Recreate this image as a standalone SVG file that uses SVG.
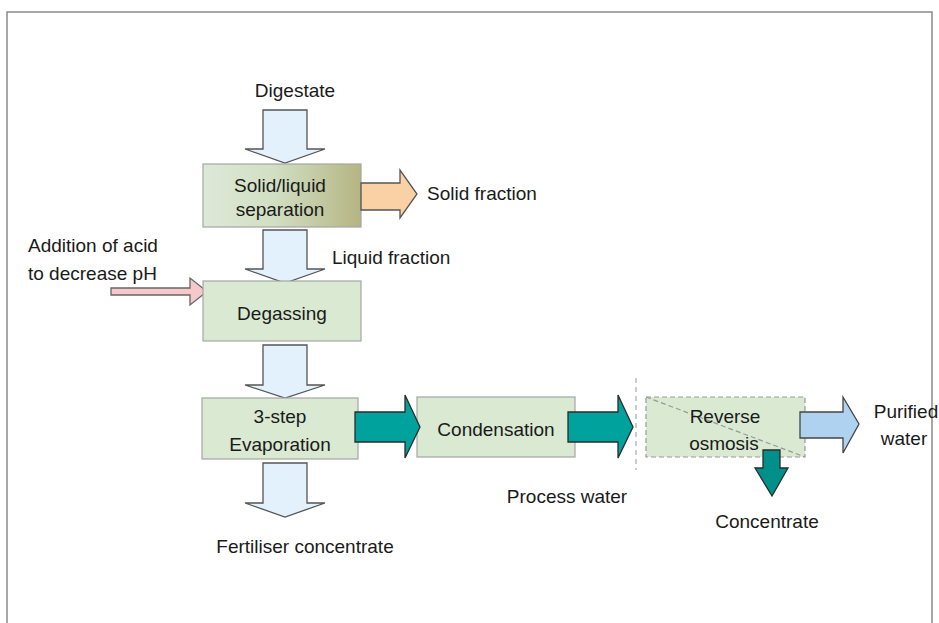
<svg xmlns="http://www.w3.org/2000/svg" width="939" height="623" viewBox="0 0 939 623">
<style>
text{font-family:"Liberation Sans",Arial,sans-serif;font-size:19px;fill:#1a1a1a}
.m{text-anchor:middle}
.box{fill:#d9e9d2;stroke:#a6a6a6;stroke-width:1.2}
.down{fill:#e2f1fb;stroke:#555;stroke-width:1.3}
.teal{fill:#00a29e;stroke:#2b2b2b;stroke-width:1.3}
</style>
<defs>
<linearGradient id="olive" x1="0" y1="0" x2="1" y2="0">
<stop offset="0" stop-color="#dde9d7"/>
<stop offset="0.45" stop-color="#d2dfc3"/>
<stop offset="1" stop-color="#b5b583"/>
</linearGradient>
</defs>
<rect x="0" y="0" width="939" height="623" fill="#fff"/>
<path d="M7,630 V12 H932 V630" fill="none" stroke="#8a8a8a" stroke-width="1.5"/>

<g id="connectors">
<path class="down" d="M263,110 H307 V149 H325 L285,163 L245,149 H263 Z"/>
<path class="down" d="M263,230 H307 V269 H325 L285,283 L245,269 H263 Z"/>
<path class="down" d="M263,345 H307 V385 H325 L285,398 L245,385 H263 Z"/>
<path class="down" d="M263,463 H307 V503 H325 L285,517 L245,503 H263 Z"/>
<path d="M111,288 H190 V278 L207,291.5 L190,305 V295 H111 Z" fill="#f6c8ca" stroke="#666" stroke-width="1.3"/>
<line x1="636" y1="378" x2="636" y2="470" stroke="#aaa" stroke-width="1.2" stroke-dasharray="5 4"/>
</g>

<g id="n-solid-liquid">
<rect class="box" x="203" y="164" width="158" height="63" fill="url(#olive)" style="fill:url(#olive)"/>
<text class="m" x="280" y="192">Solid/liquid</text>
<text class="m" x="280" y="216">separation</text>
</g>
<g id="c-solid-fraction">
<path d="M361,183 H400 V170 L417,194 L400,218 V210 H361 Z" fill="#f9d1a5" stroke="#555" stroke-width="1.3"/>
</g>

<g id="n-degassing">
<rect class="box" x="203" y="281" width="158" height="60"/>
<text class="m" x="282" y="320">Degassing</text>
</g>

<g id="n-evaporation">
<rect class="box" x="202" y="398" width="156" height="61"/>
<text class="m" x="280" y="423">3-step</text>
<text class="m" x="280" y="451">Evaporation</text>
</g>

<g id="n-condensation">
<rect class="box" x="417" y="397" width="158" height="60"/>
<text class="m" x="496" y="436">Condensation</text>
</g>

<g id="c-teal">
<path class="teal" d="M355,412 H405 V395 L420,427 L405,458 V442 H355 Z"/>
<path class="teal" d="M568,412 H618 V395 L633,427 L618,458 V442 H568 Z"/>
</g>

<g id="n-reverse-osmosis">
<rect x="646" y="397" width="159" height="60" fill="#d9e9d2" stroke="#999" stroke-width="1.2" stroke-dasharray="5 3"/>
<line x1="646" y1="397" x2="805" y2="457" stroke="#999" stroke-width="1.2" stroke-dasharray="5 3"/>
<text class="m" x="725" y="423">Reverse</text>
<text class="m" x="724" y="450">osmosis</text>
</g>

<g id="c-outputs">
<path d="M800,412 H843 V397 L859,424 L843,453 V438 H800 Z" fill="#b0d2f1" stroke="#444" stroke-width="1.3"/>
<path d="M763,450 H780 V468 H788 L772,496 L755,468 H763 Z" fill="#00908c" stroke="#2b2b2b" stroke-width="1.3"/>
</g>

<g id="labels">
<text class="m" x="295" y="97">Digestate</text>
<text x="427" y="200">Solid fraction</text>
<text x="332" y="264">Liquid fraction</text>
<text x="28" y="252">Addition of acid</text>
<text x="28" y="280">to decrease pH</text>
<text class="m" x="305" y="553">Fertiliser concentrate</text>
<text class="m" x="567" y="503">Process water</text>
<text class="m" x="906" y="418">Purified</text>
<text class="m" x="904" y="445">water</text>
<text class="m" x="767" y="528">Concentrate</text>
</g>
</svg>
